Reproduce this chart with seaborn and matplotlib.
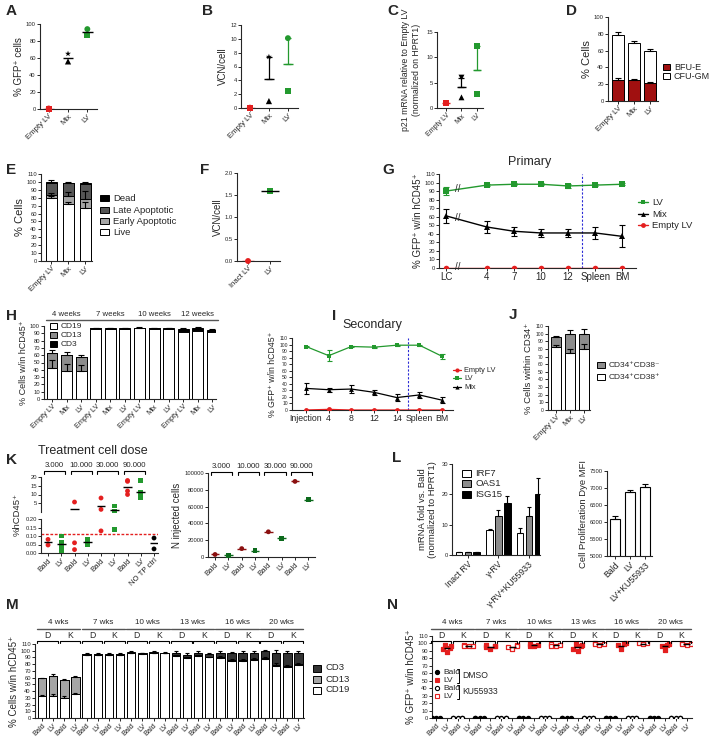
import numpy as np
import pandas as pd
import matplotlib
matplotlib.use("Agg")
import matplotlib.pyplot as plt
from matplotlib.patches import Rectangle
import seaborn as sns

# ---------------- data ----------------
A_cats = ["Empty LV", "Mix", "LV"]
A_empty = [0.6, 0.2]
A_mix = [65, 56]
A_lv = [94, 87]

B_empty = [0.05, 0.0]
B_mix = [7.4, 1.0]
B_lv = [10.1, 2.5]

C_empty = [1.0, 1.0]
C_mix = [6.0, 2.1]
C_lv = [12.2, 2.8]

D_cats = ["Empty LV", "Mix", "LV"]
D_bfu = [25, 25, 22]
D_bfu_err = [2, 1.5, 1.2]
D_total = [78, 69, 59]
D_total_err = [4.5, 3, 3]

E_cats = ["Empty LV", "Mix", "LV"]
E_live = [80, 72, 67]
E_early = [4, 10, 12]
E_late = [15, 16, 18]
E_dead = [1, 1, 2]
E_live_err = [2, 2, 8]
E_early_err = [2, 5, 9]
E_total_err = [2, 1, 1]

F_cats = ["Inact LV", "LV"]
F_inact = [0.0]
F_lv = [1.6]

G_labels = ["LC", "4", "7", "10", "12", "Spleen", "BM"]
G_lv = [90, 97, 98, 98, 96, 97, 98]
G_lv_err = [5, 1, 1, 1, 2, 1, 1]
G_mix = [61, 48, 43, 41, 41, 41, 37]
G_mix_err = [8, 7, 5, 5, 5, 7, 13]
G_empty = [0, 0, 0, 0, 0, 0, 0]

H_cats = ["Empty LV", "Mix", "LV"] * 4
H_weeks = ["4 weeks", "7 weeks", "10 weeks", "12 weeks"]
H_cd19 = [42, 38, 38, 96, 96, 96, 97, 96, 96, 92, 93, 92]
H_cd13 = [21, 22, 19, 0.8, 0.5, 0.5, 0.5, 0.8, 0.5, 1, 1, 0.5]
H_cd3 = [0, 0, 0, 0.3, 0.3, 0.3, 0.3, 0.3, 0.3, 3, 3, 2]
H_cd19_err = [12, 10, 8, 0, 0, 0, 0, 0, 0, 0, 0, 0]
H_total_err = [4, 5, 3, 0.5, 0.5, 0.5, 0.5, 0.5, 0.5, 1, 1, 1]

I_labels = ["Injection", "4", "8", "12", "14", "Spleen", "BM"]
I_lv = [97, 83, 97, 96, 99, 99, 82]
I_lv_err = [1, 8, 1, 1, 1, 1, 4]
I_mix = [33, 31, 32, 27, 19, 23, 15]
I_mix_err = [8, 3, 6, 4, 6, 5, 5]
I_empty = [0, 1, 0, 0, 0, 0, 0]

J_cats = ["Empty LV", "Mix", "LV"]
J_pos = [82, 75, 80]
J_pos_err = [3, 5, 6]
J_neg = [13, 25, 20]
J_total_err = [2, 5, 6]

K_cats = ["Bald", "LV", "Bald", "LV", "Bald", "LV", "Bald", "LV", "NO TP ctrl"]
K_doses = ["3.000", "10.000", "30.000", "90.000"]
K_vals = [[0.08, 0.047],
          [0.10, 0.06, 0.04, 0.012],
          [5.7, 0.06, 0.02],
          [0.08, 0.07, 0.06, 0.05],
          [8.0, 1.5, 0.13],
          [3.4, 0.6, 0.14],
          [18, 17.5, 12, 10],
          [18, 11, 9, 8],
          [0.088, 0.024]]

K2_cats = ["Bald", "LV"] * 4
K2_vals = [3000, 2000, 10000, 7500, 30000, 22500, 90000, 68000]

L_groups = ["Inact RV", "\u03b3-RV", "\u03b3-RV+KU55933"]
L_genes = ["IRF7", "OAS1", "ISG15"]
L_irf7 = [1, 8.2, 7.2]
L_irf7_err = [0.1, 0.5, 1.8]
L_oas1 = [1, 13, 12.7]
L_oas1_err = [0.1, 2, 3]
L_isg15 = [1, 17, 20]
L_isg15_err = [0.1, 2.5, 5.5]

L2_cats = ["Bald", "LV", "LV+KU55933"]
L2_vals = [6080, 6880, 7030]
L2_err = [100, 50, 90]

M_cats = ["Bald", "LV"] * 12
M_weeks = ["4 wks", "7 wks", "10 wks", "13 wks", "16 wks", "20 wks"]
M_cd19 = [32, 33, 29, 35, 93, 93, 93, 93, 96, 95, 96, 96,
          92, 89, 92, 90, 89, 85, 85, 86, 88, 78, 76, 79]
M_cd13 = [27, 30, 28, 26, 1.5, 1.5, 1, 1.5, 1, 0.5, 1, 0.5,
          1, 1, 1, 1, 1, 1, 1, 1, 1, 1, 1, 1]
M_cd3 = [0, 0, 0, 0, 1, 1, 1, 0.5, 1, 0.5, 1, 0.5,
         4, 4, 4, 4, 7, 10, 11, 10, 10, 17, 20, 16]
M_cd19_err = [2, 3, 3, 2, 1, 1, 1, 1, 1, 1, 1, 1,
              1, 1, 1, 1, 3, 3, 3, 3, 3, 4, 3, 3]
M_total_err = [1, 2, 1, 1, 1, 1, 1, 1, 1, 1, 1, 1,
               2, 2, 2, 2, 2, 2, 2, 2, 2, 5, 3, 3]

N_cats = ["Bald", "LV"] * 12
N_lv_D = [[98, 96, 94, 92, 88], [98, 97, 96, 95, 92], [99, 98, 97, 96],
          [99, 98, 96, 93, 90], [100, 99, 98, 92], [99, 98, 97, 91]]
N_lv_K = [[98, 97, 96, 97], [98, 97, 95, 93], [99, 98, 97, 96],
          [100, 99, 99, 98], [100, 100, 99], [100, 99, 99, 98]]
N_bald_D = [[0, 0, 0, 0], [0, 0, 0, 0], [0, 0, 0, 0],
            [0, 0, 0, 0], [0, 0, 0, 0], [0, 0, 0, 0]]
N_bald_K = [[0, 0, 0, 0, 0], [0, 0, 0, 0, 0], [0, 0, 0, 0, 0],
            [0, 0, 0, 0, 0], [0, 0, 0, 0, 0], [0, 0, 0, 0, 0]]

# ---------------- style ----------------
sns.set_style("ticks")
plt.rcParams["font.family"] = ["Liberation Sans", "DejaVu Sans"]
plt.rcParams.update({
    "axes.linewidth": 0.8, "xtick.major.width": 0.7, "ytick.major.width": 0.7,
    "xtick.major.size": 2, "ytick.major.size": 2,
    "xtick.major.pad": 1, "ytick.major.pad": 1,
    "axes.labelpad": 1.5,
})
RED = "#e41f1f"
GREEN = "#23992e"
DRED = "#a01010"
KRED = "#8b1010"
KGREEN = "#0c6a1c"
GRAY = "#8c8c8c"
DGRAY = "#555555"
LGRAY = "#a5a5a5"
BLUE = "#2b2bd6"
YT = 4.2     # numeric tick label size
CT = 5.6     # category label size

W, H = 709, 737
fig = plt.figure(figsize=(W / 100, H / 100), dpi=100)
ov = fig.add_axes([0, 0, 1, 1], zorder=10)
ov.set_xlim(0, W)
ov.set_ylim(H, 0)
ov.axis("off")

RECTS = {}


def add_ax(name, l, t, r, b, xlim, ylim):
    ax = fig.add_axes([l / W, 1 - b / H, (r - l) / W, (b - t) / H])
    sns.despine(ax=ax)
    ax.patch.set_alpha(0)
    RECTS[name] = (l, t, r, b, xlim, ylim)
    return ax


def fin(ax, name):
    l, t, r, b, xl, yl = RECTS[name]
    ax.set_xlim(*xl)
    ax.set_ylim(*yl)
    ax.tick_params(axis="y", labelsize=YT)


def px(name, xv):
    l, t, r, b, xl, yl = RECTS[name]
    return l + (xv - xl[0]) / (xl[1] - xl[0]) * (r - l)


def letter(x, y, s):
    ov.text(x, y, s, fontsize=11, fontweight="bold", ha="left", va="center")


def cat_ticks(ax, labels, size=CT, pos=None):
    if pos is None:
        pos = range(len(labels))
    ax.set_xticks(list(pos))
    ax.set_xticklabels(labels, rotation=45, ha="right", rotation_mode="anchor", fontsize=size)
    ax.set_xlabel("")


def dots(ax, x, vals, color, markers, size=18):
    for v, m in zip(vals, markers):
        sns.scatterplot(x=[x], y=[v], ax=ax, color=color, marker=m, s=size,
                        edgecolor="none", legend=False, zorder=3, clip_on=False)


def mean_sem(ax, x, vals, color, err=True, hw=0.28):
    m = np.mean(vals)
    ax.hlines(m, x - hw, x + hw, color=color, lw=1, zorder=4)
    if err:
        s = np.std(vals, ddof=1) / np.sqrt(len(vals))
        ax.errorbar([x], [m], yerr=[[0], [s]], fmt="none", ecolor=color,
                    elinewidth=0.9, capsize=2.5, capthick=0.9, zorder=4)


def upper_err(ax, x, y, e, color="k", cap=2):
    ax.errorbar(x, y, yerr=[np.zeros(len(e)), e], fmt="none", ecolor=color,
                elinewidth=0.8, capsize=cap, capthick=0.8, zorder=5)


def stacked(ax, layers, colors, width):
    cum = np.cumsum(np.array(layers, dtype=float), axis=0)
    n = cum.shape[1]
    for k in range(len(layers) - 1, -1, -1):
        sns.barplot(x=np.arange(n), y=cum[k], ax=ax, color=colors[k], edgecolor="k",
                    linewidth=0.7, width=width, errorbar=None, saturation=1)
    return cum


def box_legend(x, ys, labels, colors, size=6.5, bw=8, bh=6.5, tx=None):
    for y, lab, c in zip(ys, labels, colors):
        ov.add_patch(Rectangle((x, y - bh / 2), bw, bh, fc=c, ec="k", lw=0.7))
        ov.text(x + bw + 4 if tx is None else tx, y, lab, fontsize=size, va="center", ha="left")


def bracket(x0, x1, y, h=2.5, lw=0.8):
    ov.plot([x0, x0, x1, x1], [y + h, y, y, y + h], color="k", lw=lw)


# ---------------- A ----------------
ax = add_ax("A", 40, 24, 97, 109, (-0.45, 2.5), (0, 100))
dots(ax, 0, A_empty, RED, ["o", "s"])
dots(ax, 1, A_mix, "k", ["*", "^"], size=20)
dots(ax, 2, A_lv, GREEN, ["o", "s"])
mean_sem(ax, 0, A_empty, RED, err=False)
mean_sem(ax, 1, A_mix, "k", err=False)
mean_sem(ax, 2, A_lv, "k", err=False)
fin(ax, "A")
ax.set_yticks(range(0, 101, 20))
cat_ticks(ax, A_cats)
ax.set_ylabel("% GFP\u207a cells", fontsize=7)
letter(6, 11, "A")

# ---------------- B ----------------
ax = add_ax("B", 241, 25, 298, 108, (-0.47, 2.53), (0, 12))
dots(ax, 0, B_empty, RED, ["o", "s"])
dots(ax, 1, B_mix, "k", ["*", "^"], size=20)
dots(ax, 2, B_lv, GREEN, ["o", "s"])
mean_sem(ax, 0, B_empty, RED, err=False)
mean_sem(ax, 1, B_mix, "k")
mean_sem(ax, 2, B_lv, GREEN)
fin(ax, "B")
ax.set_yticks(range(0, 13, 2))
cat_ticks(ax, A_cats)
ax.set_ylabel("VCN/cell", fontsize=7)
letter(202, 11, "B")

# ---------------- C ----------------
ax = add_ax("C", 437, 32, 483, 108, (-0.58, 2.39), (0, 15))
dots(ax, 0, C_empty, RED, ["o", "s"])
dots(ax, 1, C_mix, "k", ["v", "^"], size=18)
dots(ax, 2, C_lv, GREEN, ["s", "s"])
mean_sem(ax, 0, C_empty, RED, err=False)
mean_sem(ax, 1, C_mix, "k")
mean_sem(ax, 2, C_lv, GREEN)
fin(ax, "C")
ax.set_yticks([0, 5, 10, 15])
cat_ticks(ax, A_cats, size=5)
ax.set_ylabel("p21 mRNA relative to Empty LV\n(normalized on HPRT1)", fontsize=6.3, labelpad=4)
letter(387, 11, "C")

# ---------------- D ----------------
ax = add_ax("D", 608, 17, 658, 101, (-0.625, 2.5), (0, 100))
cum = stacked(ax, [D_bfu, np.subtract(D_total, D_bfu)], [DRED, "white"], 0.69)
upper_err(ax, range(3), D_bfu, D_bfu_err)
upper_err(ax, range(3), D_total, D_total_err)
fin(ax, "D")
ax.set_yticks(range(0, 101, 20))
cat_ticks(ax, D_cats)
ax.set_ylabel("% Cells", fontsize=8)
box_legend(663, [67, 76], ["BFU-E", "CFU-GM"], [DRED, "white"], size=6.5, bw=7)
letter(566, 11, "D")

# ---------------- E ----------------
ax = add_ax("E", 41, 174, 92, 261, (-0.59, 2.41), (0, 110))
cum = stacked(ax, [E_live, E_early, E_late, E_dead], ["white", LGRAY, DGRAY, "black"], 0.65)
upper_err(ax, range(3), cum[0], E_live_err)
upper_err(ax, range(3), cum[1], E_early_err)
upper_err(ax, range(3), cum[3], E_total_err)
fin(ax, "E")
ax.set_yticks(range(0, 111, 10))
cat_ticks(ax, E_cats)
ax.set_ylabel("% Cells", fontsize=8)
box_legend(100, [198, 210, 221, 232], ["Dead", "Late Apoptotic", "Early Apoptotic", "Live"],
           ["black", DGRAY, LGRAY, "white"], size=6.8, bw=9)
letter(6, 170, "E")

# ---------------- F ----------------
ax = add_ax("F", 237, 173, 280, 261, (-0.5, 1.45), (0, 2))
dots(ax, 0, F_inact, RED, ["o"])
dots(ax, 1, F_lv, GREEN, ["s"])
mean_sem(ax, 0, F_inact, RED, err=False)
mean_sem(ax, 1, F_lv, "k", err=False, hw=0.4)
fin(ax, "F")
ax.set_yticks([0, 0.5, 1.0, 1.5, 2.0])
ax.set_yticklabels(["0.0", "0.5", "1.0", "1.5", "2.0"])
cat_ticks(ax, F_cats)
ax.set_ylabel("VCN/cell", fontsize=7)
letter(200, 170, "F")

# ---------------- G ----------------
ax = add_ax("G", 439, 174, 636, 268, (-0.26, 7.0), (0, 110))
G_pos = [0, 1.5, 2.5, 3.5, 4.5, 5.5, 6.5]
for vals, err, c, m in [(G_lv, G_lv_err, GREEN, "s"), (G_mix, G_mix_err, "k", "^"),
                        (G_empty, None, RED, "o")]:
    sns.lineplot(x=G_pos, y=vals, ax=ax, color=c, marker=m, markersize=4,
                 markeredgewidth=0, lw=1, legend=False, errorbar=None, zorder=3)
    if err is not None:
        ax.errorbar(G_pos, vals, yerr=err, fmt="none", ecolor=c, elinewidth=0.8,
                    capsize=2, capthick=0.8, zorder=3)
ax.axvline(5.0, color=BLUE, ls=(0, (2, 1.5)), lw=0.8)
for yv in [93, 58, 1]:
    ax.text(0.42, yv, "//", fontsize=7, ha="center", va="center", zorder=6)
fin(ax, "G")
ax.set_yticks(range(0, 111, 10))
ax.set_xticks(G_pos)
ax.set_xticklabels(G_labels, fontsize=7)
ax.set_xlabel("")
ax.set_ylabel("% GFP\u207a w/in hCD45\u207a", fontsize=7)
ov.text(530, 162, "Primary", fontsize=9, ha="center", va="center")
for y, lab, c, m in [(202, "LV", GREEN, "s"), (214, "Mix", "k", "^"), (225, "Empty LV", RED, "o")]:
    ov.plot([638, 648], [y, y], color=c, lw=1)
    ov.plot([643], [y], marker=m, color=c, ms=3.5, mew=0)
    ov.text(652, y, lab, fontsize=6.8, va="center")
letter(382, 170, "G")

# ---------------- H ----------------
ax = add_ax("H", 44, 326, 216, 399, (-0.55, 11.25), (0, 100))
cum = stacked(ax, [H_cd19, H_cd13, H_cd3], ["white", GRAY, "black"], 0.75)
upper_err(ax, range(3), cum[0][:3], H_cd19_err[:3])
upper_err(ax, range(12), cum[2], H_total_err)
fin(ax, "H")
ax.set_yticks(range(0, 101, 10))
cat_ticks(ax, H_cats, size=5.3)
ax.set_ylabel("% Cells w/in hCD45\u207a", fontsize=6.5)
ov.plot([px("H", -0.4), px("H", 11.4)], [320, 320], color=DGRAY, lw=1)
for g, lab in enumerate(H_weeks):
    ov.text(px("H", 3 * g + 1), 314, lab, fontsize=5.6, ha="center", va="center")
box_legend(50, [326, 335, 344], ["CD19", "CD13", "CD3"], ["white", GRAY, "black"], size=6, bw=7, bh=6)
letter(6, 316, "H")

# ---------------- I ----------------
ax = add_ax("I", 292, 338, 453, 410, (-0.62, 6.48), (0, 110))
I_pos = list(range(7))
for vals, err, c, m in [(I_lv, I_lv_err, GREEN, "s"), (I_mix, I_mix_err, "k", "^"),
                        (I_empty, None, RED, "o")]:
    sns.lineplot(x=I_pos, y=vals, ax=ax, color=c, marker=m, markersize=3.5,
                 markeredgewidth=0, lw=0.9, legend=False, errorbar=None, zorder=3)
    if err is not None:
        ax.errorbar(I_pos, vals, yerr=err, fmt="none", ecolor=c, elinewidth=0.8,
                    capsize=1.8, capthick=0.8, zorder=3)
ax.axvline(4.5, color=BLUE, ls=(0, (2, 1.5)), lw=0.8)
fin(ax, "I")
ax.set_yticks(range(0, 111, 10))
ax.tick_params(axis="y", labelsize=3.6)
ax.set_xticks(I_pos)
ax.set_xticklabels(I_labels, fontsize=6.3)
ax.set_xlabel("")
ax.set_ylabel("% GFP\u207a w/in hCD45\u207a", fontsize=6.3)
ov.text(372, 325, "Secondary", fontsize=9, ha="center", va="center")
for y, lab, c, m in [(370, "Empty LV", RED, "o"), (378, "LV", GREEN, "s"), (387, "Mix", "k", "^")]:
    ov.plot([453, 461], [y, y], color=c, lw=0.9)
    ov.plot([457], [y], marker=m, color=c, ms=3, mew=0)
    ov.text(464, y, lab, fontsize=5.3, va="center")
letter(332, 316, "I")

# ---------------- J ----------------
ax = add_ax("J", 548, 326, 590, 410, (-0.57, 2.43), (0, 110))
cum = stacked(ax, [J_pos, J_neg], ["white", GRAY], 0.7)
upper_err(ax, range(3), cum[0], J_pos_err)
upper_err(ax, range(3), cum[1], J_total_err)
fin(ax, "J")
ax.set_yticks(range(0, 111, 10))
ax.tick_params(axis="y", labelsize=3.6)
cat_ticks(ax, J_cats)
ax.set_ylabel("% Cells within CD34\u207a", fontsize=6.8)
box_legend(597, [365, 377], ["CD34\u207aCD38\u207b", "CD34\u207aCD38\u207a"], [GRAY, "white"], size=6, bw=8)
letter(509, 315, "J")

# ---------------- K (left) ----------------
KT = add_ax("KT", 41, 477, 158, 512, (-0.53, 8.3), (0, 20))
KB = add_ax("KB", 41, 519, 158, 553, (-0.53, 8.3), (0, 0.2))
K_col = [RED, GREEN, RED, GREEN, RED, GREEN, RED, GREEN, "k"]
K_mk = ["o", "s", "o", "s", "o", "s", "o", "s", "o"]
for i, vals in enumerate(K_vals):
    hi = [v for v in vals if v > 0.2]
    lo = [v for v in vals if v <= 0.2]
    if hi:
        dots(KT, i, hi, K_col[i], [K_mk[i]] * len(hi), size=12)
    if lo:
        dots(KB, i, lo, K_col[i], [K_mk[i]] * len(lo), size=12)
    m = np.mean(vals)
    (KT if m > 0.2 else KB).hlines(m, i - 0.33, i + 0.33, color="k", lw=1, zorder=4)
KB.axhline(0.11, color=RED, ls=(0, (2, 1.2)), lw=1)
fin(KT, "KT")
fin(KB, "KB")
KT.spines["bottom"].set_visible(False)
KT.set_xticks([])
KT.set_yticks([5, 10, 15, 20])
KB.set_yticks([0, 0.05, 0.10, 0.15, 0.20])
KB.set_yticklabels(["0.00", "0.05", "0.10", "0.15", "0.20"])
cat_ticks(KB, K_cats, size=5.6)
KT.set_ylabel("")
KB.set_ylabel("")
ov.text(17, 515, "%hCD45\u207a", fontsize=6.8, rotation=90, ha="center", va="center")
ov.text(93, 451, "Treatment cell dose", fontsize=9, ha="center", va="center")
for g, lab in enumerate(K_doses):
    bracket(px("KT", 2 * g - 0.3), px("KT", 2 * g + 1.3), 471)
    ov.text(px("KT", 2 * g + 0.5), 465, lab, fontsize=5.6, ha="center", va="center")
letter(6, 460, "K")

# ---------------- K (right) ----------------
ax = add_ax("K2", 208, 473, 315, 557, (-0.53, 7.5), (0, 100000))
for i, v in enumerate(K2_vals):
    c = KRED if i % 2 == 0 else KGREEN
    dots(ax, i, [v], c, ["o" if i % 2 == 0 else "s"], size=12)
    ax.hlines(v, i - 0.33, i + 0.33, color=c, lw=1, zorder=4)
fin(ax, "K2")
ax.set_yticks(range(0, 100001, 20000))
ax.set_yticklabels([str(v) for v in range(0, 100001, 20000)])
cat_ticks(ax, K2_cats, size=5.6)
ax.set_ylabel("N injected cells", fontsize=7)
for g, lab in enumerate(K_doses):
    bracket(px("K2", 2 * g - 0.3), px("K2", 2 * g + 1.3), 472)
    ov.text(px("K2", 2 * g + 0.5), 466, lab, fontsize=5.6, ha="center", va="center")

# ---------------- L (left) ----------------
ax = add_ax("L1", 452, 464, 540, 555, (-0.52, 2.36), (0, 30))
L_df = pd.DataFrame({
    "group": np.repeat(L_groups, 3),
    "gene": L_genes * 3,
    "val": [v for trio in zip(L_irf7, L_oas1, L_isg15) for v in trio],
})
sns.barplot(data=L_df, x="group", y="val", hue="gene", order=L_groups, hue_order=L_genes,
            palette=["white", GRAY, "black"], edgecolor="k", linewidth=0.7, width=0.87,
            gap=0.25, errorbar=None, legend=False, saturation=1, ax=ax)
for k, (vals, err) in enumerate([(L_irf7, L_irf7_err), (L_oas1, L_oas1_err), (L_isg15, L_isg15_err)]):
    upper_err(ax, np.arange(3) + (k - 1) * 0.29, vals, err, cap=1.6)
fin(ax, "L1")
ax.set_yticks([0, 10, 20, 30])
cat_ticks(ax, L_groups, size=6.3)
ax.set_ylabel("mRNA fold vs. Bald\n(normalized to HPRT1)", fontsize=6.8, labelpad=3)
box_legend(462, [473, 483, 494], L_genes, ["white", GRAY, "black"], size=6.8, bw=9, bh=7)
letter(392, 458, "L")

# ---------------- L (right) ----------------
ax = add_ax("L2", 607, 471, 652, 556, (-0.53, 2.5), (5000, 7500))
sns.barplot(x=np.arange(3), y=L2_vals, ax=ax, color="white", edgecolor="k", linewidth=0.8,
            width=0.68, errorbar=None, saturation=1)
upper_err(ax, range(3), L2_vals, L2_err)
fin(ax, "L2")
ax.set_yticks(range(5000, 7501, 500))
cat_ticks(ax, L2_cats, size=6.3)
ax.set_ylabel("Cell Proliferation Dye MFI", fontsize=6.8)

# ---------------- M ----------------
ax = add_ax("M", 35, 644, 304, 718, (-0.63, 23.5), (0, 110))
cum = stacked(ax, [M_cd19, M_cd13, M_cd3], ["white", LGRAY, "#333333"], 0.76)
upper_err(ax, range(24), cum[0], M_cd19_err, cap=1.6)
upper_err(ax, range(24), cum[2], M_total_err, cap=1.6)
fin(ax, "M")
ax.set_yticks(range(0, 111, 10))
cat_ticks(ax, M_cats, size=5.3)
ax.set_ylabel("% Cells w/in hCD45\u207a", fontsize=7)
box_legend(313, [668, 679, 690], ["CD3", "CD13", "CD19"], ["#333333", LGRAY, "white"], size=6.8, bw=8, bh=7)
letter(6, 605, "M")

# ---------------- N ----------------
ax = add_ax("N", 432, 636, 692, 718, (-0.37, 23.5), (0, 110))
for g in range(6):
    sets = [(4 * g, N_bald_D[g], "k", "k", "o"), (4 * g + 1, N_lv_D[g], RED, RED, "s"),
            (4 * g + 2, N_bald_K[g], "white", "k", "o"), (4 * g + 3, N_lv_K[g], "white", RED, "s")]
    for pos, vals, fc, ec, mk in sets:
        df = pd.DataFrame({"pos": [pos] * len(vals), "val": vals})
        sns.swarmplot(data=df, x="pos", y="val", native_scale=True, ax=ax, color=fc,
                      edgecolor=ec, linewidth=0.9, marker=mk, size=3.0, zorder=3)
        ax.hlines(np.mean(vals), pos - 0.3, pos + 0.3, color="k", lw=1, zorder=4)
fin(ax, "N")
ax.set_yticks(range(0, 111, 10))
cat_ticks(ax, N_cats, size=5.3)
ax.set_ylabel("% GFP\u207a w/in hCD45\u207a", fontsize=7)
for (x, y, fc, ec, mk, lab) in [(437, 672, "k", "k", "o", "Bald"), (437, 680, RED, RED, "s", "LV"),
                                (437, 688, "white", "k", "o", "Bald"), (437, 696, "white", RED, "s", "LV")]:
    ov.plot([x], [y], marker=mk, mfc=fc, mec=ec, ms=3, mew=0.8)
    ov.text(x + 6, y, lab, fontsize=6, va="center")
for y0, y1, lab in [(669, 683, "DMSO"), (685, 699, "KU55933")]:
    ov.plot([457, 459, 459, 457], [y0, y0, y1, y1], color="k", lw=0.7)
    ov.text(462, (y0 + y1) / 2, lab, fontsize=6.2, va="center")
letter(387, 605, "N")

# headers for M and N
for name in ["M", "N"]:
    for g, lab in enumerate(M_weeks):
        b = 4 * g
        ov.text(px(name, b + 1.5), 623, lab, fontsize=5.8, ha="center", va="center")
        ov.plot([px(name, b - 0.45), px(name, b + 3.45)], [628.5, 628.5], color=DGRAY, lw=1)
        ov.text(px(name, b + 0.5), 635, "D", fontsize=6.2, ha="center", va="center")
        ov.text(px(name, b + 2.5), 635, "K", fontsize=6.2, ha="center", va="center")
        bracket(px(name, b - 0.42), px(name, b + 1.42), 640.5, h=2)
        bracket(px(name, b + 1.58), px(name, b + 3.42), 640.5, h=2)

fig.savefig("out.png", dpi=100)
